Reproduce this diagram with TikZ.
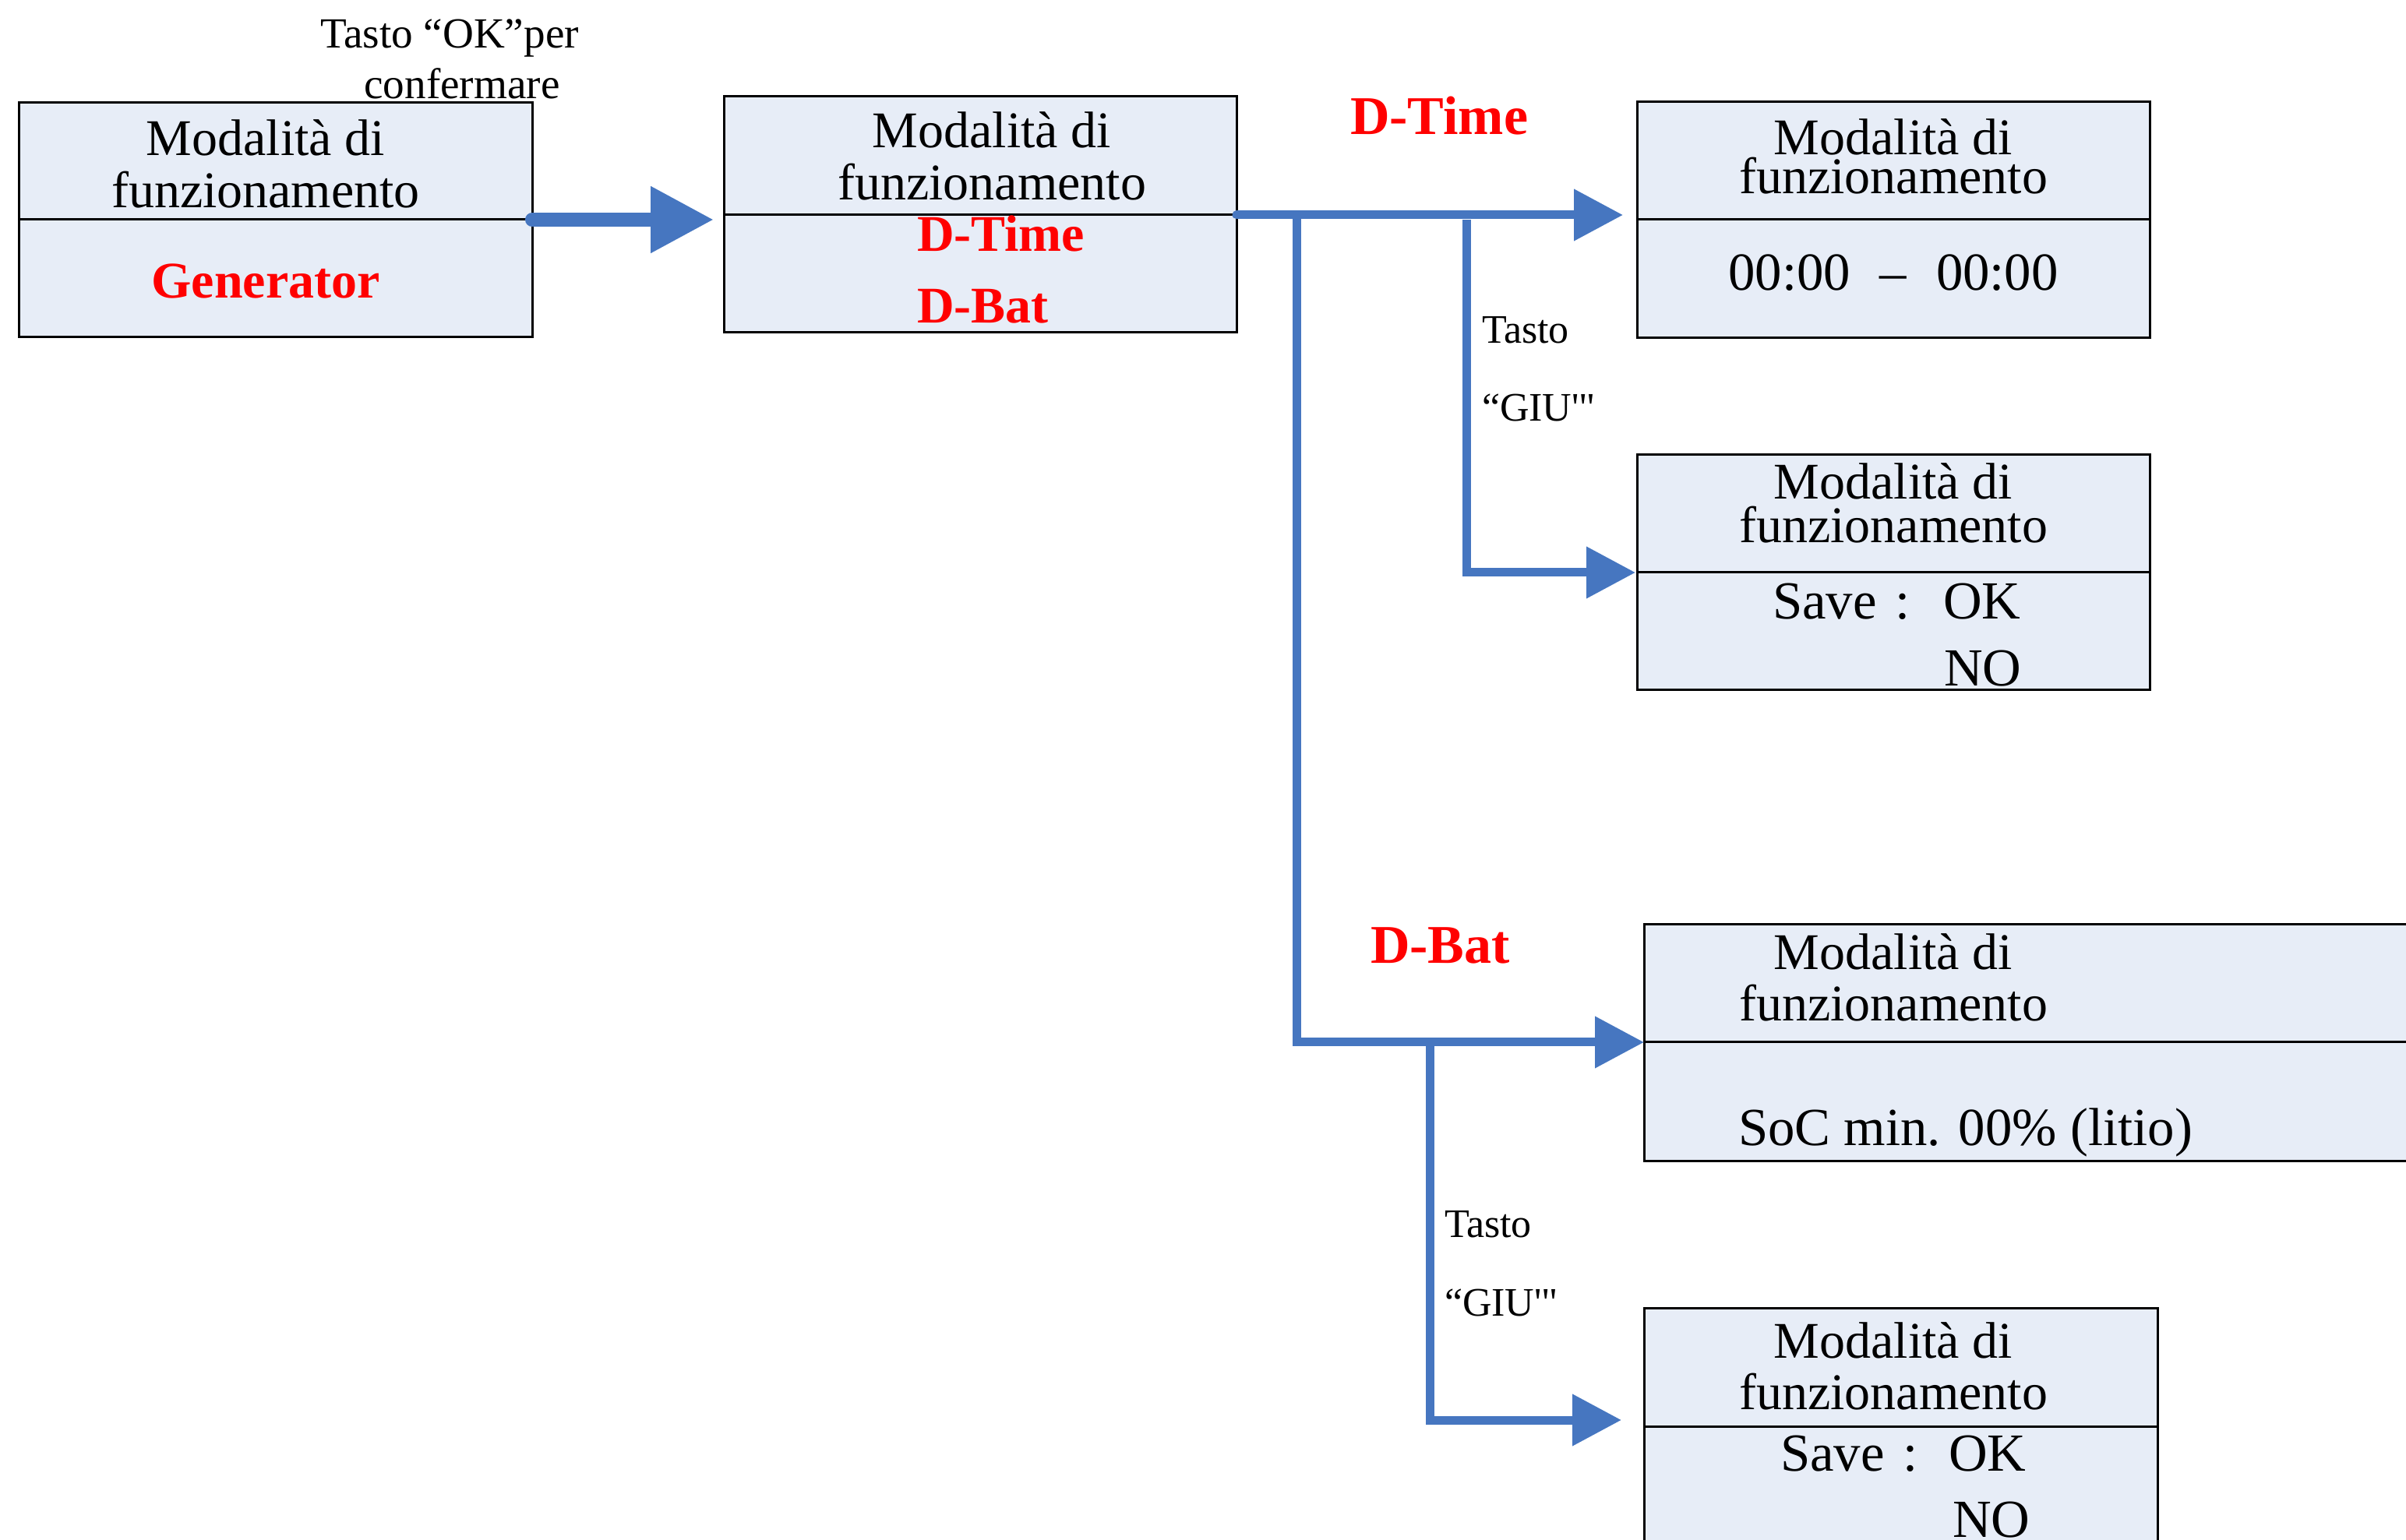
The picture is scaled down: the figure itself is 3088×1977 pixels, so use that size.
\documentclass[tikz,border=0pt]{standalone}
\usepackage{fontspec}
\setmainfont{Liberation Serif}[Ligatures=TeXOff]
\usetikzlibrary{arrows.meta}
\definecolor{boxfill}{RGB}{231,237,247}
\definecolor{flowblue}{RGB}{70,118,192}
\definecolor{hotred}{RGB}{255,0,0}
\begin{document}
\begin{tikzpicture}[x=0.25pt,y=-0.25pt,
  part/.style={draw=black,fill=boxfill,line width=0.75pt,inner sep=0pt,outer sep=0pt,anchor=north west},
  txt/.style={inner sep=0pt,outer sep=0pt,anchor=base,font=\fontsize{16.5pt}{18pt}\selectfont},
  val/.style={inner sep=0pt,outer sep=0pt,anchor=base west,font=\fontsize{17.2pt}{19pt}\selectfont},
  redb/.style={inner sep=0pt,outer sep=0pt,anchor=base,text=hotred,font=\fontsize{16.5pt}{18pt}\selectfont\bfseries},
  redlab/.style={inner sep=0pt,outer sep=0pt,anchor=base west,text=hotred,font=\fontsize{17.5pt}{19pt}\selectfont\bfseries},
  keylab/.style={inner sep=0pt,outer sep=0pt,anchor=base west,font=\fontsize{13pt}{15pt}\selectfont},
  toplab/.style={inner sep=0pt,outer sep=0pt,anchor=base,font=\fontsize{13.8pt}{15pt}\selectfont},
  flow/.style={draw=flowblue,line width=2.75pt,line cap=round,-{Triangle[length=15.75pt,width=16pt]}},
  bigflow/.style={draw=flowblue,line width=4.5pt,line cap=round,-{Triangle[length=20.25pt,width=20.25pt]}},
  flowline/.style={draw=flowblue,line width=2.75pt,-{Triangle[length=15.75pt,width=16pt]}}
]
\useasboundingbox (0,0) rectangle (3088,1977);
\clip (0,0) rectangle (3088,1977);

% Box 1
\node[part,minimum width=164.75pt,minimum height=37.5pt] (b1top) at (24,132) {};
\node[part,minimum width=164.75pt,minimum height=37.75pt] (b1bot) at (24,282) {};
% Box 2
\node[part,minimum width=164.5pt,minimum height=38pt] (b2top) at (929,124) {};
\node[part,minimum width=164.5pt,minimum height=37.75pt] (b2bot) at (929,276) {};
% Box 3
\node[part,minimum width=164.5pt,minimum height=37.75pt] (b3top) at (2101,131) {};
\node[part,minimum width=164.5pt,minimum height=38pt] (b3bot) at (2101,282) {};
% Box 4
\node[part,minimum width=164.5pt,minimum height=37.75pt] (b4top) at (2101,584) {};
\node[part,minimum width=164.5pt,minimum height=37.75pt] (b4bot) at (2101,735) {};
% Box 5
\node[part,minimum width=250pt,minimum height=37.75pt] (b5top) at (2110,1187) {};
\node[part,minimum width=250pt,minimum height=38.25pt] (b5bot) at (2110,1338) {};
% Box 6
\node[part,minimum width=164.75pt,minimum height=38pt] (b6top) at (2110,1679) {};
\node[part,minimum width=164.75pt,minimum height=50pt] (b6bot) at (2110,1831) {};

% connectors
\coordinate (t1) at (916,282);
\draw[bigflow] (b1top.south east) -- (t1);
\coordinate (t3) at (2083,276);
\draw[flow] (b2top.south east) -- (t3);
\coordinate (j1) at (1664,276);
\draw[flowline] (j1) |- (b5top.south west);
\coordinate (j2) at (1882,282);
\coordinate (t4) at (2099,735);
\draw[flowline] (j2) |- (t4);
\coordinate (j3) at (1835,1338);
\coordinate (t6) at (2081,1823);
\draw[flowline] (j3) |- (t6);

% Box 1 text
\node[txt] (b1l1) at (341,200) {Modalità di};
\node[txt] (b1l2) at (341,267) {funzionamento};
\node[redb] (b1l3) at (341,383) {Generator};
% Box 2 text
\node[txt] (b2l1) at (1273,190) {Modalità di};
\node[txt] (b2l2) at (1273,257) {funzionamento};
\node[redb,anchor=base west] (b2l3) at (1177,323) {D-Time};
\node[redb,anchor=base west] (b2l4) at (1177,415) {D-Bat};
% Box 3 text
\node[txt] (b3l1) at (2430,199) {Modalità di};
\node[txt] (b3l2) at (2430,249) {funzionamento};
\node[val,anchor=base] (b3l3) at (2430,373) {00:00\hspace{0.55em}–\hspace{0.55em}00:00};
% Box 4 text
\node[txt] (b4l1) at (2430,641) {Modalità di};
\node[txt] (b4l2) at (2430,697) {funzionamento};
\node[val] (b4save) at (2275,795) {Save\hspace{0.35em}:};
\node[val] (b4ok) at (2494,795) {OK};
\node[val] (b4no) at (2495,881) {NO};
% Box 5 text
\node[txt] (b5l1) at (2430,1245) {Modalità di};
\node[txt] (b5l2) at (2430,1311) {funzionamento};
\node[val] (b5soc) at (2231,1471) {SoC min. 00\% (litio)};
% Box 6 text
\node[txt] (b6l1) at (2430,1743) {Modalità di};
\node[txt] (b6l2) at (2430,1809) {funzionamento};
\node[val] (b6save) at (2285,1888) {Save\hspace{0.35em}:};
\node[val] (b6ok) at (2501,1888) {OK};
\node[val] (b6no) at (2506,1973) {NO};

% labels
\node[toplab] (ok1) at (577,62) {Tasto “OK”per};
\node[toplab] (ok2) at (593,127) {confermare};
\node[redlab] (ldt) at (1733,173) {D-Time};
\node[redlab] (ldb) at (1759,1237) {D-Bat};
\node[keylab] (k1a) at (1902,441) {Tasto};
\node[keylab] (k1b) at (1902,541) {“GIU'"};
\node[keylab] (k2a) at (1854,1589) {Tasto};
\node[keylab] (k2b) at (1854,1689) {“GIU'"};
\end{tikzpicture}
\end{document}
